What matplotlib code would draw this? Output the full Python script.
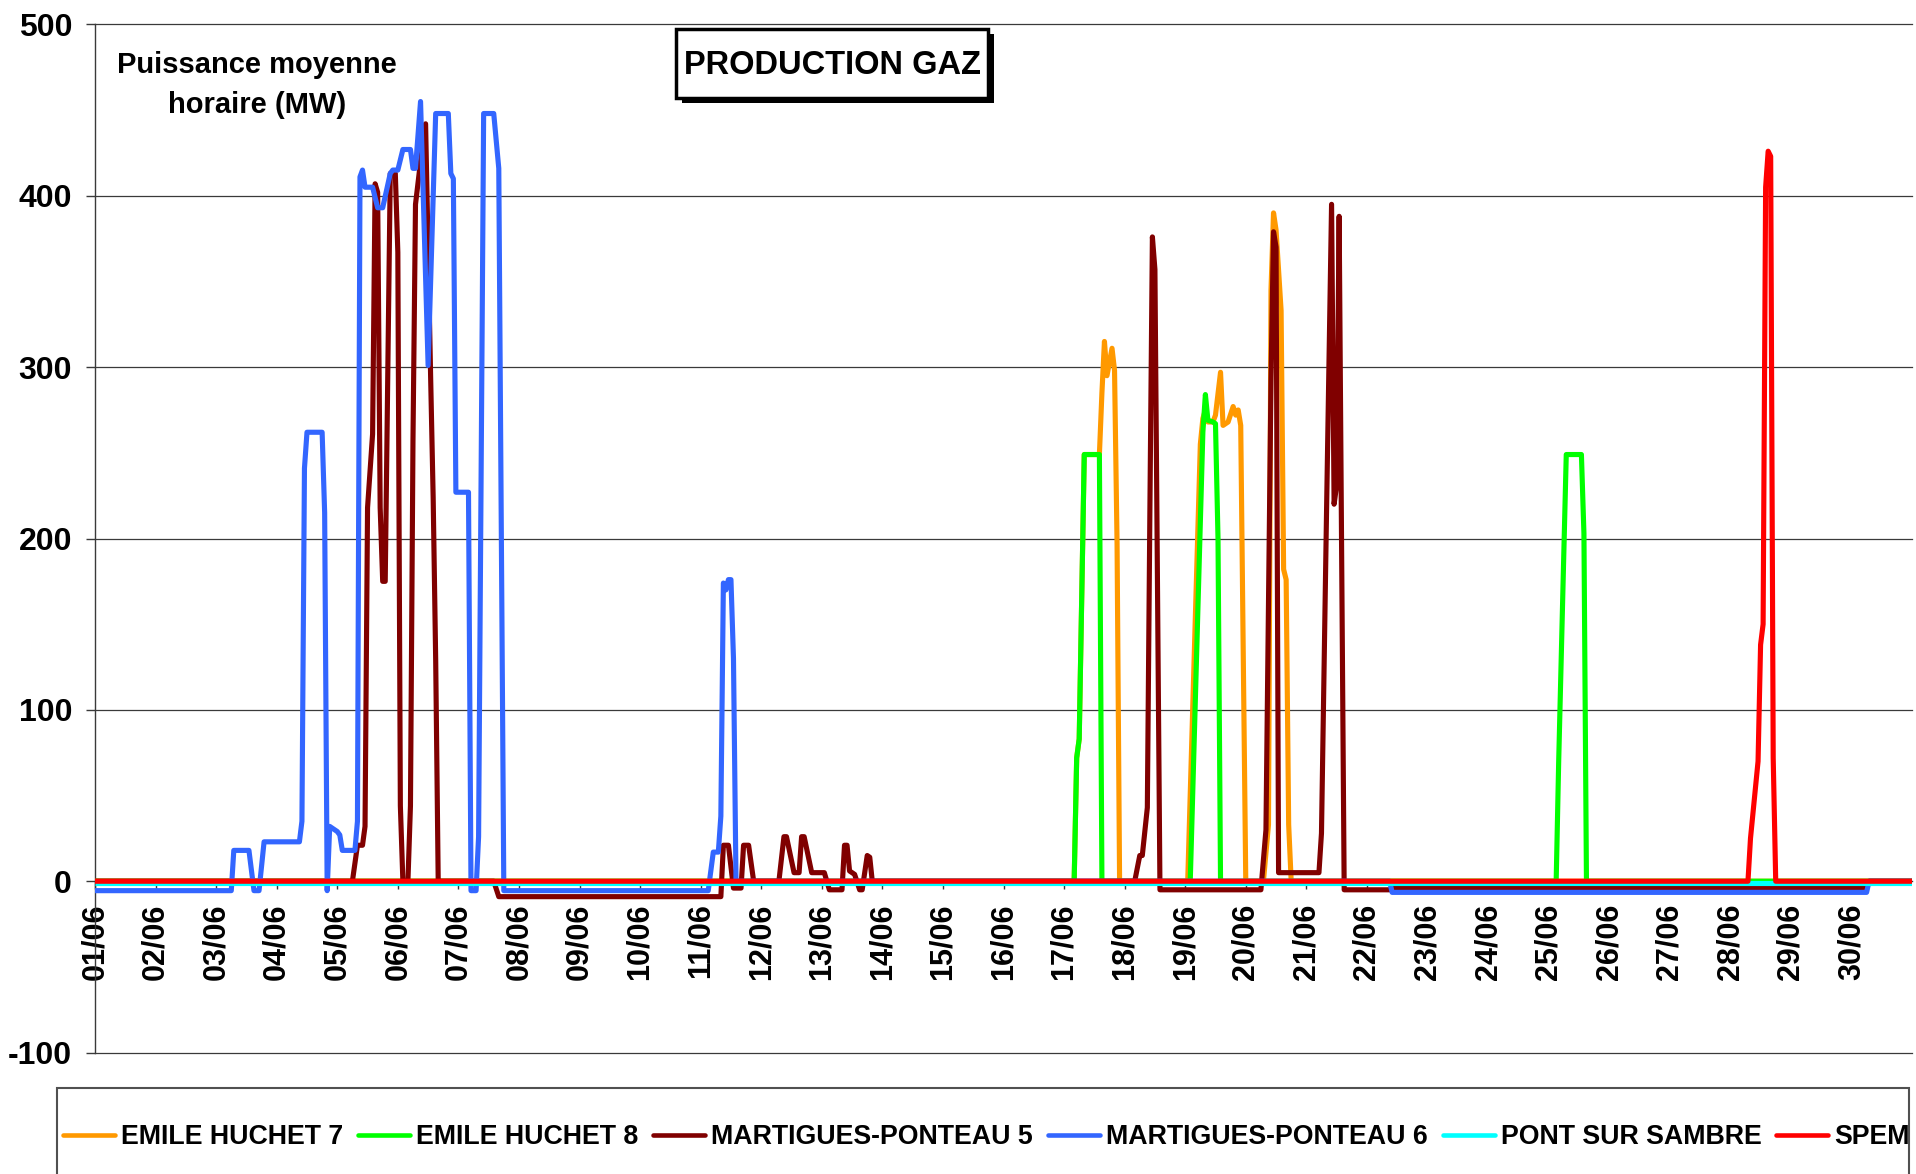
import matplotlib
matplotlib.use('Agg')
import matplotlib.pyplot as plt
from matplotlib.patches import Rectangle
from matplotlib.lines import Line2D

plt.rcParams['font.family'] = ['Liberation Sans', 'DejaVu Sans']
plt.rcParams['font.weight'] = 'bold'

# ---------------- data (hour since 01/06 00:00, MW) ----------------
day_labels = ['01/06', '02/06', '03/06', '04/06', '05/06', '06/06', '07/06', '08/06',
              '09/06', '10/06', '11/06', '12/06', '13/06', '14/06', '15/06', '16/06',
              '17/06', '18/06', '19/06', '20/06', '21/06', '22/06', '23/06', '24/06',
              '25/06', '26/06', '27/06', '28/06', '29/06', '30/06']
y_ticks = [-100, 0, 100, 200, 300, 400, 500]

eh7_h = [0, 388, 389, 390, 392, 398, 399, 400, 401, 403, 404, 405, 406,
         433, 438, 439, 440, 441, 443, 444, 446, 447, 449, 451, 452, 453, 454, 456,
         463, 465, 466, 467, 468, 470, 471, 472, 473, 474, 720]
eh7_v = [0, 0, 72, 83, 249, 249, 285, 315, 295, 311, 298, 197, 0,
         0, 255, 270, 275, 268, 268, 272, 297, 266, 268, 277, 272, 275, 266, 0,
         0, 33, 345, 390, 380, 333, 182, 176, 33, 0, 0]

eh8_h = [0, 388, 389, 390, 392, 398, 399, 434, 439, 440, 441, 443, 444, 445, 446,
         579, 580, 581, 583, 589, 590, 591, 720]
eh8_v = [0, 0, 72, 83, 249, 249, 0, 0, 262, 284, 269, 268, 267, 200, 0,
         0, 70, 130, 249, 249, 203, 0, 0]

mp5_h = [0, 102, 104, 106, 107, 108, 110, 111, 112, 113, 114, 115, 117, 119, 120,
         121, 122, 124, 125, 126, 127, 129, 131, 133, 134, 135, 136, 158, 160,
         248, 249, 251, 253, 256, 257, 259, 261, 271, 273, 274, 277, 279, 280, 281,
         284, 289, 291, 296, 297, 298, 299, 301, 303, 304, 306, 307, 308,
         412, 414, 415, 417, 418, 419, 420, 422, 462, 464, 466, 467, 468, 469,
         485, 486, 488, 490, 491, 492, 493, 494, 495, 513, 514, 702, 703, 720]
mp5_v = [0, 0, 21, 21, 32, 218, 261, 407, 402, 218, 175, 175, 413, 413, 367,
         44, 0, 0, 44, 257, 395, 420, 442, 294, 224, 129, 0, 0, -9,
         -9, 21, 21, -4, -4, 21, 21, 0, 0, 26, 26, 5, 5, 26, 26,
         5, 5, -5, -5, 21, 21, 6, 4, -5, -5, 15, 14, 0,
         0, 15, 15, 43, 215, 376, 357, -5, -5, 30, 293, 379, 370, 5,
         5, 28, 215, 395, 220, 231, 388, 189, -5, -5, -4, -4, 0, 0]

mp6_h = [0, 54, 55, 61, 63, 65, 67, 81, 82, 83, 84, 90, 91, 92, 93, 96, 97, 98,
         103, 104, 105, 106, 107, 110, 112, 114, 117, 118, 120, 122, 125, 126, 127,
         129, 132, 135, 140, 141, 142, 143, 148, 149, 151, 152, 154, 158, 160, 162,
         243, 245, 247, 248, 249, 250, 251, 252, 253, 254, 513, 514, 702, 703, 720]
mp6_v = [-5.5, -5.5, 18, 18, -5.5, -5.5, 23, 23, 35, 241, 262, 262, 215, -5.5, 32, 29, 27, 18,
         18, 35, 411, 415, 405, 405, 393, 393, 413, 415, 415, 427, 427, 416, 416,
         455, 301, 448, 448, 413, 410, 227, 227, -5.5, -5.5, 26, 448, 448, 416, -5.5,
         -5.5, 17, 17, 38, 174, 170, 176, 176, 130, 0, 0, -6.5, -6.5, 0, 0]

pss_h = [0, 720]
pss_v = [-1.3, -1.3]

spem_h = [0, 655, 656, 657, 658, 659, 660, 661, 662, 663, 664, 665, 666, 720]
spem_v = [0, 0, 25, 40, 55, 70, 138, 150, 405, 426, 423, 72, 0, 0]

series_names = ['EMILE HUCHET 7', 'EMILE HUCHET 8', 'MARTIGUES-PONTEAU 5',
                'MARTIGUES-PONTEAU 6', 'PONT SUR SAMBRE', 'SPEM']
series_colors = ['#FF9900', '#00FF00', '#800000', '#3366FF', '#00FFFF', '#FF0000']
series_data = [(eh7_h, eh7_v), (eh8_h, eh8_v), (mp5_h, mp5_v),
               (mp6_h, mp6_v), (pss_h, pss_v), (spem_h, spem_v)]

# ---------------- figure ----------------
W, H = 1916, 1174
fig = plt.figure(figsize=(W / 100, H / 100), dpi=100)
fig.patch.set_facecolor('white')

ax_l, ax_r, ax_t, ax_b = 95, 1912, 24.4, 1052.6
ax = fig.add_axes([ax_l / W, 1 - ax_b / H, (ax_r - ax_l) / W, (ax_b - ax_t) / H])

for s in ['top', 'right']:
    ax.spines[s].set_visible(False)
ax.spines['left'].set_color('#3a3a3a')
ax.spines['left'].set_linewidth(1.0)
ax.spines['bottom'].set_position(('data', 0))
ax.spines['bottom'].set_color('#3a3a3a')
ax.spines['bottom'].set_linewidth(1.0)

for i, ((hh, vv), c) in enumerate(zip(series_data, series_colors)):
    ax.plot(hh, vv, color=c, lw=3.7, zorder=3 + i, solid_joinstyle='round',
            solid_capstyle='butt')

ax.set_xlim(0, 720)
ax.set_ylim(-100, 500)
for yv in y_ticks:
    if yv != 0:
        ax.axhline(yv, color='#3a3a3a', lw=0.9, zorder=1, clip_on=False)

ax.set_yticks(y_ticks)
ax.set_yticklabels([str(t) for t in y_ticks])
ax.set_xticks([24 * i for i in range(len(day_labels))])
ax.set_xticklabels(day_labels, rotation=90)
ax.tick_params(axis='y', length=6.5, width=1, color='#3a3a3a', pad=10, labelsize=23)
ax.tick_params(axis='x', length=6, width=1, color='#3a3a3a', pad=10, labelsize=22)
for lab in ax.get_xticklabels() + ax.get_yticklabels():
    lab.set_fontweight('bold')

# annotation texts
fig.text(257 / W, 1 - 85 / H, 'Puissance moyenne\nhoraire (MW)', ha='center', va='center',
         fontsize=21, fontweight='bold', linespacing=1.55)

# title box with shadow
bx0, bx1, by0, by1 = 676, 988, 29, 98
fig.add_artist(Rectangle(((bx0 + 6) / W, 1 - (by1 + 5) / H), (bx1 - bx0) / W, (by1 - by0) / H,
                         transform=fig.transFigure, fc='black', ec='black', lw=0))
fig.add_artist(Rectangle((bx0 / W, 1 - by1 / H), (bx1 - bx0) / W, (by1 - by0) / H,
                         transform=fig.transFigure, fc='white', ec='black', lw=2.5))
fig.text((bx0 + bx1) / 2 / W, 1 - 66 / H, 'PRODUCTION GAZ', ha='center',
         va='center', fontsize=23.5, fontweight='bold')

# legend frame
fig.add_artist(Rectangle((57 / W, -0.05), (1909 - 57) / W, (H - 1088) / H + 0.05,
                         transform=fig.transFigure, fill=False, ec='#505050', lw=1.5))
handles = [Line2D([], [], color=c, lw=3.3, solid_capstyle='round') for c in series_colors]
fig.legend(handles, series_names, loc='center left', bbox_to_anchor=(63 / W, 1 - 1137 / H),
           ncol=6, frameon=False, prop={'size': 19.3, 'weight': 'bold'},
           handlelength=1.95, handletextpad=0.22, columnspacing=0.55,
           borderaxespad=0, borderpad=0)

fig.savefig('out.png', dpi=100, facecolor='white')
